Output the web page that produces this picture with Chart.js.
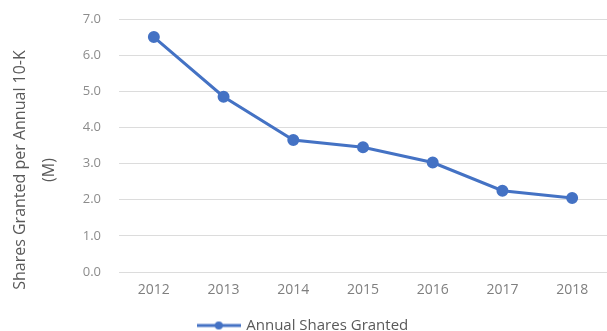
<!DOCTYPE html>
<html>
<head>
<meta charset="utf-8">
<script src="https://cdn.jsdelivr.net/npm/chart.js@4"></script>
<style>
  html, body { margin: 0; padding: 0; background: #fff; }
  #wrap { width: 607px; height: 331px; }
</style>
</head>
<body>
<div id="wrap"><canvas id="chart" width="607" height="331"></canvas></div>
<script>
const years = ["2012", "2013", "2014", "2015", "2016", "2017", "2018"];
const sharesGranted = [6.5, 4.85, 3.65, 3.45, 3.03, 2.25, 2.05];
const seriesLabel = "Annual Shares Granted";
const yTitle = ["Shares Granted per Annual 10-K", "(M)"];

const blue = "#4472c4";
const fontFamily = "'Open Sans', sans-serif";

// legend marker: line with a dot in the middle
function legendMarker() {
  const c = document.createElement("canvas");
  c.width = 44;
  c.height = 10;
  const g = c.getContext("2d");
  g.strokeStyle = blue;
  g.lineWidth = 3;
  g.beginPath();
  g.moveTo(0, 5);
  g.lineTo(44, 5);
  g.stroke();
  g.fillStyle = blue;
  g.beginPath();
  g.arc(22, 5, 4, 0, Math.PI * 2);
  g.fill();
  return c;
}

// y axis title, drawn a bit lower than the axis middle like the original
const yTitlePlugin = {
  id: "yTitle",
  afterDraw(chart) {
    const c = chart.ctx;
    c.save();
    c.fillStyle = "#595959";
    c.font = "16px " + fontFamily;
    c.textAlign = "center";
    c.textBaseline = "middle";
    const xs = [20, 49];
    yTitle.forEach((line, i) => {
      c.save();
      c.translate(xs[i], 170);
      c.rotate(-Math.PI / 2);
      c.fillText(line, 0, 0);
      c.restore();
    });
    c.restore();
  },
};

const ctx = document.getElementById("chart").getContext("2d");
new Chart(ctx, {
  type: "line",
  data: {
    labels: years,
    datasets: [
      {
        label: seriesLabel,
        data: sharesGranted,
        borderColor: blue,
        backgroundColor: blue,
        pointBackgroundColor: blue,
        pointBorderColor: blue,
        pointRadius: 4.5,
        borderWidth: 3,
        tension: 0,
        clip: false,
      },
    ],
  },
  plugins: [yTitlePlugin],
  options: {
    responsive: false,
    animation: false,
    layout: {
      autoPadding: false,
      padding: { left: 0, right: 0, top: 19, bottom: -12 },
    },
    plugins: {
      legend: {
        position: "bottom",
        labels: {
          usePointStyle: true,
          pointStyleWidth: 40,
          generateLabels: () => [
            {
              text: seriesLabel,
              pointStyle: legendMarker(),
              fillStyle: blue,
              strokeStyle: blue,
              lineWidth: 0,
              fontColor: "#595959",
              datasetIndex: 0,
            },
          ],
          color: "#595959",
          font: { family: fontFamily, size: 15 },
          padding: 4,
        },
      },
      tooltip: { enabled: false },
    },
    scales: {
      x: {
        offset: true,
        grid: { display: false, drawTicks: false },
        border: { display: false },
        ticks: {
          color: "#7f7f7f",
          font: { family: fontFamily, size: 14 },
          padding: 10,
        },
        afterFit: (scale) => {
          scale.height = 42;
          scale.paddingLeft = 0;
          scale.paddingRight = 0;
        },
      },
      y: {
        min: 0,
        max: 7,
        afterFit: (scale) => {
          scale.width = 119;
          scale.paddingTop = 0;
          scale.paddingBottom = 0;
        },
        ticks: {
          stepSize: 1,
          color: "#8c8c8c",
          font: { family: fontFamily, size: 13 },
          padding: 18,
          callback: (v) => v.toFixed(1),
        },
        grid: { color: "#dcdcdc", lineWidth: 1, drawTicks: false },
        border: { display: false },
      },
    },
  },
});
</script>
</body>
</html>
